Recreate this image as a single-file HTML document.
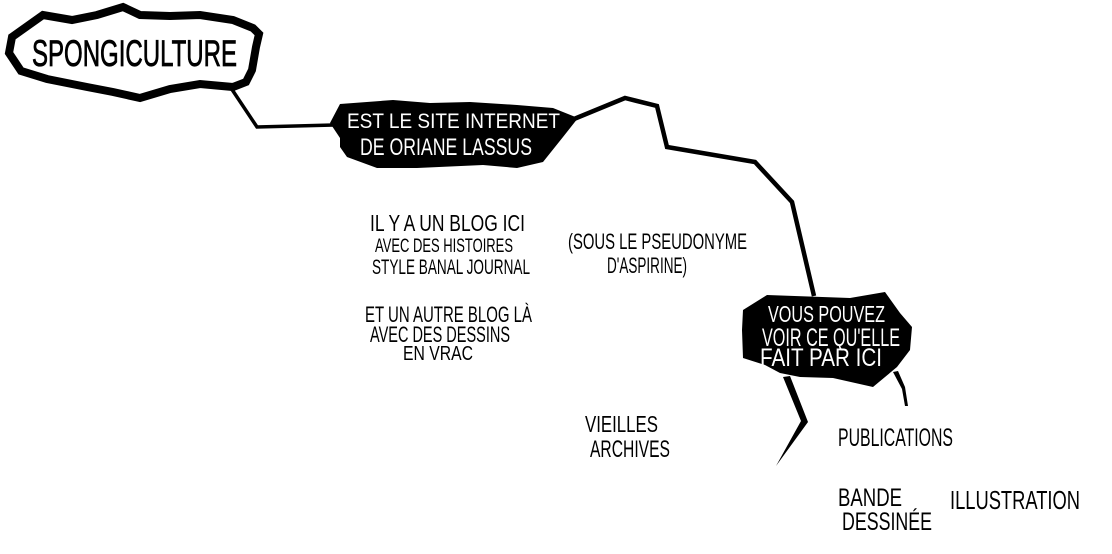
<!DOCTYPE html>
<html>
<head>
<meta charset="utf-8">
<style>
  html,body{margin:0;padding:0;background:#fff;}
  body{width:1112px;height:554px;overflow:hidden;}
  svg{display:block;}
  text{font-family:"Liberation Sans", sans-serif;}
  .h{fill:#000;}
  .w{fill:#fff;}
</style>
</head>
<body>
<svg width="1112" height="554" viewBox="0 0 1112 554" xmlns="http://www.w3.org/2000/svg">
  <!-- connector spongiculture -> middle -->
  <polyline points="231,88 257,127 334,125" fill="none" stroke="#000" stroke-width="3.5" stroke-linejoin="miter"/>
  <!-- connector middle -> right bubble -->
  <polyline points="574,119 625,98 657,106 667,147 755,162 792,202 814,296" fill="none" stroke="#000" stroke-width="4.5" stroke-linejoin="miter"/>

  <!-- Spongiculture bubble -->
  <polygon points="12,37 43,15 72,20 97,15 123,7 140,15 170,16 200,15 233,20 253,28 259,34 256,47 252,70 246,82 233,87 200,84 170,89 140,98 113,92 87,87 47,79 21,71 9,53"
    fill="#fff" stroke="#000" stroke-width="8" stroke-linejoin="miter" stroke-miterlimit="10"/>
  <text class="h" x="32" y="66" font-size="37" textLength="205" lengthAdjust="spacingAndGlyphs" stroke="#000" stroke-width="0.8">SPONGICULTURE</text>

  <!-- Middle black bubble -->
  <polygon points="330,123 340,104 393,100 430,103 470,102 517,105 553,108 578,118 563,137 543,162 517,168 483,165 417,168 377,168 347,157 340,147 340,138" fill="#000"/>
  <text class="w" x="347" y="128" font-size="21" textLength="213" lengthAdjust="spacingAndGlyphs">EST LE SITE INTERNET</text>
  <text class="w" x="360" y="155" font-size="24" textLength="172" lengthAdjust="spacingAndGlyphs">DE ORIANE LASSUS</text>

  <!-- Right black bubble -->
  <polygon points="743,310 767,295 850,298 885,292 900,313 912,327 910,350 897,367 873,387 833,378 800,377 780,373 765,365 743,358 742,330" fill="#000"/>
  <text class="w" x="768" y="322" font-size="23" textLength="117" lengthAdjust="spacingAndGlyphs">VOUS POUVEZ</text>
  <text class="w" x="762" y="346" font-size="25" textLength="138" lengthAdjust="spacingAndGlyphs">VOIR CE QU'ELLE</text>
  <text class="w" x="760" y="366" font-size="25" textLength="122" lengthAdjust="spacingAndGlyphs">FAIT PAR ICI</text>

  <!-- lower connectors -->
  <polygon points="783,377 790,376 808,422 776,466 801,421" fill="#000"/>
  <polygon points="893,372 898,371 905,387 908,406 905,406 902,389" fill="#000"/>

  <!-- black handwritten labels -->
  <text class="h" x="370" y="231" font-size="23" textLength="155" lengthAdjust="spacingAndGlyphs">IL Y A UN BLOG ICI</text>
  <text class="h" x="375" y="252" font-size="19" textLength="138" lengthAdjust="spacingAndGlyphs">AVEC DES HISTOIRES</text>
  <text class="h" x="372" y="274" font-size="21" textLength="158" lengthAdjust="spacingAndGlyphs">STYLE BANAL JOURNAL</text>

  <text class="h" x="568" y="249" font-size="22" textLength="179" lengthAdjust="spacingAndGlyphs">(SOUS LE PSEUDONYME</text>
  <text class="h" x="607" y="273" font-size="22" textLength="80" lengthAdjust="spacingAndGlyphs">D'ASPIRINE)</text>

  <text class="h" x="365" y="322" font-size="22" textLength="167" lengthAdjust="spacingAndGlyphs">ET UN AUTRE BLOG LÀ</text>
  <text class="h" x="370" y="342" font-size="22" textLength="140" lengthAdjust="spacingAndGlyphs">AVEC DES DESSINS</text>
  <text class="h" x="403" y="360" font-size="20" textLength="70" lengthAdjust="spacingAndGlyphs">EN VRAC</text>

  <text class="h" x="585" y="432" font-size="23" textLength="73" lengthAdjust="spacingAndGlyphs">VIEILLES</text>
  <text class="h" x="590" y="457" font-size="24" textLength="80" lengthAdjust="spacingAndGlyphs">ARCHIVES</text>

  <text class="h" x="838" y="446" font-size="25" textLength="115" lengthAdjust="spacingAndGlyphs">PUBLICATIONS</text>

  <text class="h" x="838" y="506" font-size="25" textLength="64" lengthAdjust="spacingAndGlyphs">BANDE</text>
  <text class="h" x="842" y="530" font-size="25" textLength="90" lengthAdjust="spacingAndGlyphs">DESSINÉE</text>

  <text class="h" x="950" y="509" font-size="26" textLength="130" lengthAdjust="spacingAndGlyphs">ILLUSTRATION</text>
</svg>
</body>
</html>
